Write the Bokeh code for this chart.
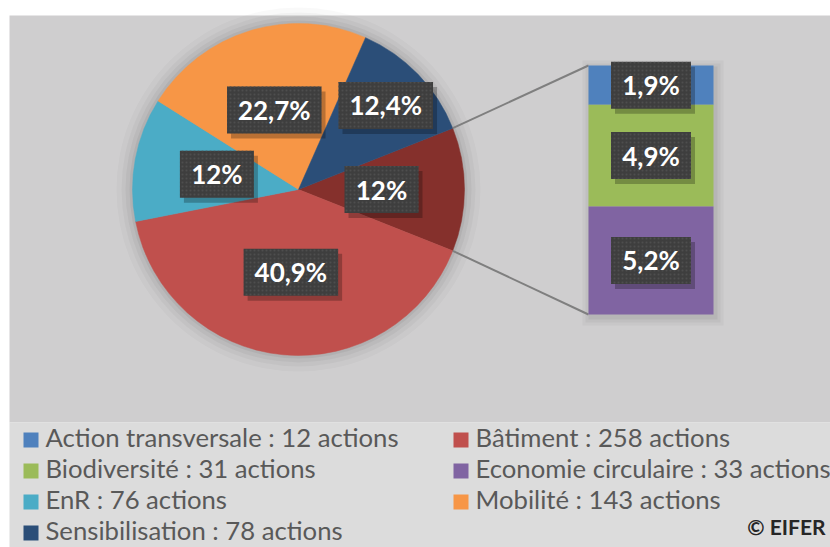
import math
from bokeh.plotting import figure
from bokeh.models import Range1d, ColumnDataSource
from bokeh.core.properties import value
from bokeh.embed import file_html
from bokeh.resources import INLINE

# ---------------- data ----------------
categories = ["Action transversale", "Bâtiment", "Biodiversité", "Economie circulaire",
              "EnR", "Mobilité", "Sensibilisation"]
actions = [12, 258, 31, 33, 76, 143, 78]
colors = ["#4f81bd", "#c0504d", "#9bbb59", "#8064a2", "#4bacc6", "#f79646", "#2b4e78"]
pie_slices = ["Bâtiment", "EnR", "Mobilité", "Sensibilisation"]      # clockwise after "other"
bar_slices = ["Action transversale", "Biodiversité", "Economie circulaire"]  # top to bottom
other_color = "#85302c"
copyright_text = "© EIFER"

# ---------------- layout (page pixel coordinates) ----------------
W, H = 830, 547
def Y(ry):
    return H - ry

CX, CY, R = 298, 189, 166          # pie centre / radius
BX0, BX1, BTOP, BBOT = 588, 713, 65, 314   # bar of pie
label_rfrac = [0.5, 0.5, 0.5, 0.73]
FONT = "Lato"

total = sum(actions)
val = dict(zip(categories, actions))
col = dict(zip(categories, colors))

def fmt(v):
    s = f"{100.0 * v / total:.1f}"
    if s.endswith(".0"):
        s = s[:-2]
    return s.replace(".", ",") + "%"

def box_w(s):
    w = 0
    for ch in s:
        if ch.isdigit():
            w += 14.5
        elif ch == ",":
            w += 6
        else:
            w += 21
    return w + 24

p = figure(width=W, height=H, x_range=Range1d(0, W), y_range=Range1d(0, H),
           output_backend="svg", toolbar_location=None, min_border=0,
           x_axis_location=None, y_axis_location=None)
p.grid.visible = False
p.outline_line_color = None
p.background_fill_color = "white"
p.border_fill_color = "white"

# backgrounds
p.quad(left=[9], right=[830], top=[Y(15)], bottom=[Y(422)], fill_color="#cfcecf", line_color=None)
p.quad(left=[9], right=[830], top=[Y(422)], bottom=[Y(547)], fill_color="#dcdcdc", line_color=None)

# soft shadow around pie
for k, a in [(16, 0.025), (11, 0.03), (7, 0.04), (3, 0.05)]:
    p.circle(x=[CX], y=[Y(CY)], radius=R + k, fill_color="black", fill_alpha=a, line_color=None)
# soft shadow around bar
for k, a in [(8, 0.03), (5, 0.04), (2, 0.05)]:
    p.quad(left=[BX0 - k + 2], right=[BX1 + k + 2], top=[Y(BTOP - k + 3)], bottom=[Y(BBOT + k + 3)],
           fill_color="black", fill_alpha=a, line_color=None)

# ---------------- pie ----------------
other_val = sum(val[c] for c in bar_slices)
oa = 2 * math.pi * other_val / total
starts, ends, fills = [-oa / 2], [oa / 2], [other_color]
cur = -oa / 2
label_pos = [(0.0, fmt(other_val), 0.5)]
for i, c in enumerate(pie_slices):
    a = 2 * math.pi * val[c] / total
    starts.append(cur - a); ends.append(cur); fills.append(col[c])
    label_pos.append((cur - a / 2, fmt(val[c]), label_rfrac[i]))
    cur -= a

p.wedge(x=[CX] * len(starts), y=[Y(CY)] * len(starts), radius=R,
        start_angle=starts, end_angle=ends, direction="anticlock",
        fill_color=fills, line_color=fills, line_width=0.5)

# connector lines
bar_total = other_val
p.line(x=[CX + R * math.cos(oa / 2), BX0], y=[Y(CY) + R * math.sin(oa / 2), Y(BTOP)],
       line_color="#7f7f7f", line_width=2)
p.line(x=[CX + R * math.cos(-oa / 2), BX0], y=[Y(CY) + R * math.sin(-oa / 2), Y(BBOT)],
       line_color="#7f7f7f", line_width=2)

# ---------------- bar of pie ----------------
scale = (BBOT - BTOP) / bar_total
top = BTOP
bar_labels = []
for c in bar_slices:
    h = val[c] * scale
    p.quad(left=[BX0], right=[BX1], top=[Y(top)], bottom=[Y(top + h)],
           fill_color=col[c], line_color=None)
    bar_labels.append(((BX0 + BX1) / 2, top + h / 2, fmt(val[c])))
    top += h

# ---------------- data labels ----------------
lx, ly, lt, lw = [], [], [], []
for ang, txt, rf in label_pos:
    lx.append(CX + rf * R * math.cos(ang))
    ly.append(Y(CY) + rf * R * math.sin(ang))
    lt.append(txt)
    lw.append(box_w(txt))
for x, ry, txt in bar_labels:
    lx.append(x); ly.append(Y(ry)); lt.append(txt); lw.append(box_w(txt))

src = ColumnDataSource(dict(x=lx, y=ly, t=lt, w=lw,
                            sx=[v + 4 for v in lx], sy=[v - 5 for v in ly]))
p.rect(x="sx", y="sy", width="w", height=47, source=src,
       fill_color="black", fill_alpha=0.25, line_color=None)
p.rect(x="x", y="y", width="w", height=47, source=src,
       fill_color="#3e3e3e", line_color=None,
       hatch_pattern="dot", hatch_color="#4e4e4e", hatch_scale=4, hatch_weight=1)
p.text(x="x", y="y", text="t", source=src, text_color="white",
       text_font=value(FONT), text_font_style="bold", text_font_size=value("26px"),
       text_align="center", text_baseline="middle")

# ---------------- legend ----------------
lgx, lgy, lgc, ltx, lty, ltt = [], [], [], [], [], []
for i, c in enumerate(categories):
    colx = [23, 453][i % 2]
    row_y = 439.5 + 31 * (i // 2)
    lgx.append(colx + 7.5); lgy.append(Y(row_y)); lgc.append(col[c])
    ltx.append(colx + 22); lty.append(Y(row_y - 3)); ltt.append(f"{c} : {val[c]} actions")
p.rect(x=lgx, y=lgy, width=15, height=15, fill_color=lgc, line_color=None)
p.text(x=ltx, y=lty, text=ltt, text_color="#595959", text_font=value(FONT),
       text_font_size=value("25.7px"), text_align="left", text_baseline="middle")

p.text(x=[825], y=[Y(526)], text=[copyright_text], text_color="#262626",
       text_font=value(FONT), text_font_style="bold", text_font_size=value("21px"),
       text_align="right", text_baseline="middle")

open("out.html", "w").write(file_html(p, INLINE))
